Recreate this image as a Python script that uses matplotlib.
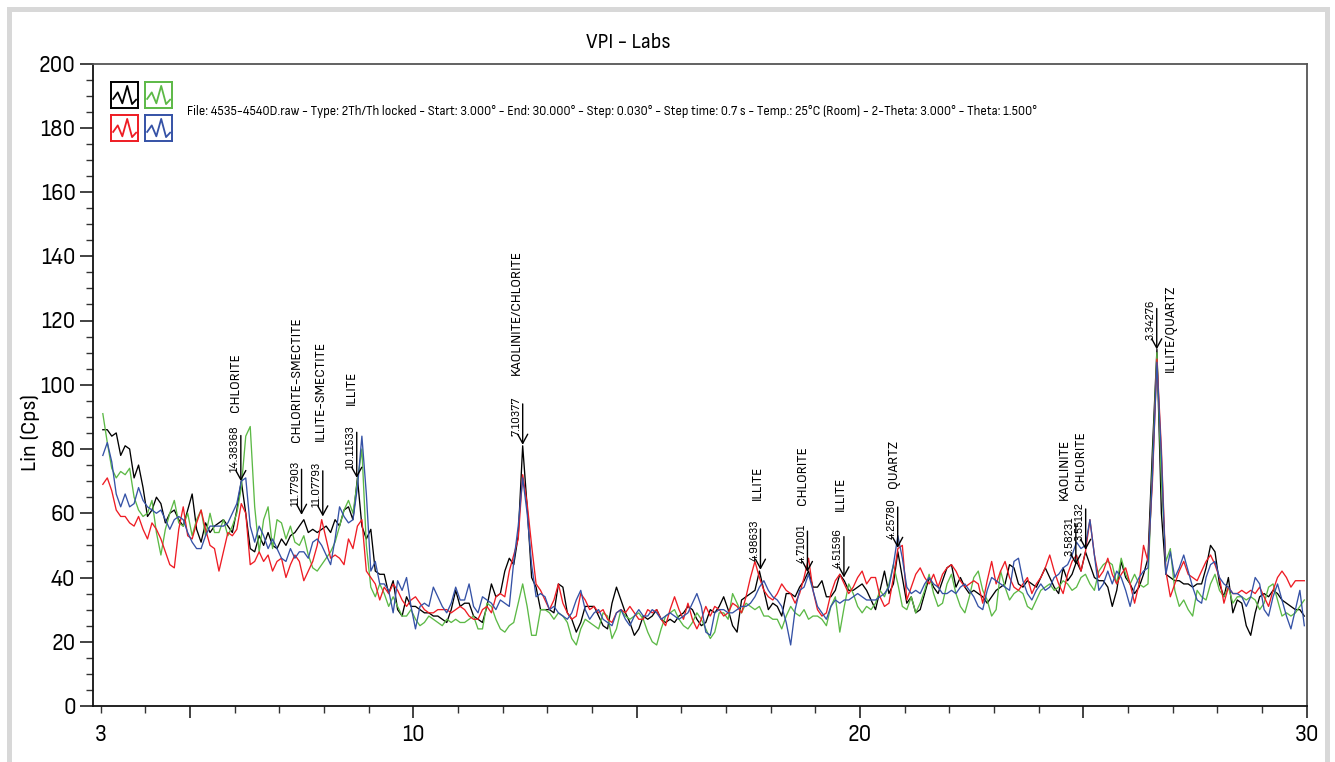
import numpy as np
import matplotlib
matplotlib.use("Agg")
import matplotlib.pyplot as plt
from matplotlib import font_manager
from matplotlib.patches import Rectangle

# ---- data (Lin counts, 0.1 deg bins from 3.05 to 29.95) ----
black = [
    86, 86, 84, 85, 78, 81, 80, 71, 75, 68,
    59, 61, 65, 63, 57, 60, 61, 58, 56, 61,
    66, 55, 51, 57, 54, 56, 57, 58, 56, 54,
    61, 70, 60, 49, 48, 53, 50, 54, 50, 49,
    52, 50, 53, 54, 56, 58, 54, 55, 54, 55,
    56, 54, 58, 56, 61, 62, 58, 71, 56, 52,
    55, 42, 41, 41, 35, 39, 30, 28, 34, 31,
    31, 30, 29, 29, 28, 28, 27, 26, 30, 36,
    31, 32, 32, 28, 27, 26, 31, 38, 34, 35,
    42, 46, 44, 53, 81, 62, 40, 37, 30, 30,
    30, 29, 38, 37, 29, 27, 23, 26, 31, 31,
    31, 28, 25, 24, 32, 37, 33, 29, 26, 22,
    24, 28, 27, 28, 30, 27, 26, 27, 26, 28,
    29, 31, 30, 27, 25, 26, 30, 29, 31, 34,
    30, 25, 23, 33, 34, 35, 36, 42, 36, 30,
    32, 31, 28, 35, 35, 34, 37, 39, 42, 37,
    37, 39, 34, 34, 36, 41, 39, 36, 36, 37,
    38, 36, 33, 30, 36, 42, 35, 38, 48, 40,
    32, 34, 29, 30, 35, 40, 37, 35, 39, 43,
    44, 37, 40, 37, 35, 36, 35, 34, 32, 34,
    36, 37, 38, 44, 43, 38, 37, 39, 38, 37,
    40, 43, 40, 37, 35, 43, 39, 41, 45, 42,
    48, 44, 40, 39, 39, 37, 31, 36, 45, 40,
    38, 35, 37, 41, 46, 80, 111, 60, 41, 40,
    39, 39, 38, 38, 37, 38, 38, 43, 50, 48,
    38, 34, 40, 29, 33, 32, 25, 22, 29, 34,
    35, 34, 36, 35, 33, 32, 31, 30, 30, 28,
]
green = [
    91, 82, 74, 71, 73, 72, 74, 65, 61, 59,
    60, 64, 54, 47, 55, 60, 64, 57, 56, 60,
    53, 58, 61, 53, 60, 54, 54, 58, 53, 56,
    60, 68, 84, 87, 62, 48, 58, 62, 49, 58,
    57, 52, 56, 51, 50, 53, 47, 43, 42, 44,
    46, 48, 51, 56, 61, 64, 60, 70, 80, 50,
    37, 34, 38, 35, 31, 34, 31, 28, 28, 30,
    27, 25, 26, 28, 27, 26, 25, 27, 26, 27,
    26, 26, 27, 28, 24, 24, 32, 31, 27, 24,
    23, 25, 26, 32, 38, 31, 22, 22, 30, 30,
    29, 27, 29, 28, 26, 21, 19, 24, 27, 26,
    25, 24, 29, 28, 21, 24, 30, 28, 27, 28,
    29, 27, 23, 20, 19, 24, 28, 29, 30, 27,
    25, 24, 26, 29, 27, 24, 21, 23, 29, 29,
    27, 35, 32, 29, 32, 31, 30, 31, 28, 28,
    27, 27, 24, 28, 31, 29, 28, 30, 27, 28,
    28, 27, 25, 31, 34, 23, 31, 38, 35, 31,
    29, 31, 30, 32, 36, 34, 38, 44, 38, 31,
    30, 34, 29, 32, 36, 41, 35, 31, 32, 38,
    41, 35, 31, 29, 34, 40, 42, 36, 33, 28,
    30, 42, 37, 33, 35, 36, 35, 31, 30, 33,
    36, 37, 38, 36, 37, 39, 38, 36, 37, 40,
    41, 38, 36, 42, 44, 45, 44, 38, 46, 41,
    38, 41, 38, 37, 38, 75, 110, 70, 45, 49,
    36, 31, 33, 30, 28, 36, 34, 33, 38, 41,
    36, 34, 37, 32, 34, 34, 33, 34, 33, 30,
    32, 37, 38, 33, 28, 29, 28, 29, 31, 33,
]
red = [
    69, 71, 67, 61, 59, 59, 57, 56, 59, 55,
    52, 57, 55, 52, 48, 44, 43, 55, 62, 53,
    52, 57, 61, 55, 50, 49, 42, 48, 54, 53,
    55, 63, 60, 44, 45, 48, 45, 47, 42, 45,
    46, 40, 44, 47, 45, 39, 42, 45, 50, 58,
    52, 46, 47, 46, 44, 52, 49, 56, 58, 42,
    40, 38, 33, 37, 35, 38, 36, 33, 31, 33,
    34, 32, 30, 29, 29, 30, 30, 30, 29, 30,
    31, 30, 28, 27, 27, 30, 31, 29, 34, 35,
    34, 42, 47, 52, 72, 63, 50, 38, 36, 33,
    30, 33, 38, 32, 29, 27, 28, 35, 33, 30,
    31, 29, 30, 27, 26, 29, 30, 29, 31, 29,
    27, 27, 30, 29, 30, 27, 25, 30, 34, 30,
    27, 32, 27, 24, 27, 31, 28, 31, 30, 28,
    29, 32, 31, 29, 34, 40, 45, 40, 36, 34,
    33, 35, 38, 36, 35, 32, 35, 40, 46, 36,
    30, 28, 29, 35, 39, 41, 38, 35, 37, 40,
    42, 38, 40, 40, 34, 31, 32, 40, 49, 50,
    33, 37, 41, 43, 40, 38, 41, 37, 41, 43,
    44, 42, 39, 37, 38, 39, 38, 32, 39, 45,
    38, 42, 45, 40, 37, 36, 38, 40, 35, 38,
    40, 43, 47, 42, 38, 35, 41, 45, 47, 42,
    48, 58, 47, 40, 42, 46, 41, 38, 41, 43,
    38, 32, 38, 50, 45, 70, 108, 80, 42, 34,
    38, 42, 45, 41, 40, 39, 42, 45, 47, 44,
    40, 32, 37, 35, 35, 36, 35, 36, 35, 37,
    34, 31, 36, 40, 42, 40, 37, 39, 39, 39,
]
blue = [
    78, 82, 76, 66, 62, 66, 62, 63, 68, 64,
    62, 61, 60, 61, 58, 55, 58, 59, 58, 54,
    51, 49, 49, 53, 56, 56, 56, 56, 57, 60,
    63, 70, 71, 56, 51, 56, 53, 49, 52, 49,
    46, 45, 49, 46, 48, 48, 46, 51, 52, 50,
    47, 44, 52, 62, 59, 57, 58, 68, 84, 66,
    42, 45, 38, 38, 36, 29, 39, 36, 40, 31,
    24, 31, 32, 31, 37, 34, 31, 29, 32, 37,
    33, 33, 38, 31, 29, 34, 33, 32, 30, 33,
    32, 31, 45, 56, 71, 60, 44, 34, 35, 34,
    30, 31, 29, 28, 27, 29, 33, 36, 30, 27,
    29, 30, 27, 26, 25, 29, 30, 27, 25, 28,
    30, 28, 28, 30, 29, 27, 28, 29, 28, 27,
    28, 29, 32, 35, 31, 23, 22, 29, 30, 30,
    29, 29, 30, 31, 31, 32, 34, 37, 39, 36,
    34, 33, 31, 26, 19, 30, 36, 37, 41, 36,
    31, 29, 27, 31, 33, 32, 33, 33, 34, 35,
    34, 33, 33, 33, 34, 35, 37, 44, 53, 46,
    37, 35, 36, 35, 38, 40, 38, 37, 35, 35,
    36, 35, 37, 38, 36, 34, 31, 30, 36, 40,
    39, 38, 37, 36, 45, 46, 39, 35, 33, 36,
    38, 36, 37, 40, 41, 43, 44, 47, 51, 49,
    50, 58, 47, 36, 38, 42, 38, 42, 40, 36,
    31, 37, 40, 42, 43, 72, 107, 78, 41, 48,
    40, 43, 47, 42, 37, 33, 32, 40, 44, 45,
    40, 38, 37, 35, 35, 34, 31, 34, 40, 38,
    30, 28, 34, 38, 33, 28, 24, 30, 36, 25,
]

# peak picks: d-spacing (Angstrom), phase, height of the arrow tip
d_values = ['14.38368', '11.77903', '11.07793', '10.11533', '7.10377', '4.98633',
            '4.71001', '4.51596', '4.25780', '3.58231', '3.55132', '3.34276']
phases = ['CHLORITE', 'CHLORITE-SMECTITE', 'ILLITE-SMECTITE', 'ILLITE',
          'KAOLINITE/CHLORITE', 'ILLITE', 'CHLORITE', 'ILLITE', 'QUARTZ',
          'KAOLINITE', 'CHLORITE', 'ILLITE/QUARTZ']
tip_heights = [70, 59.5, 59, 71, 81.3, 42.4, 41.7, 40, 49.2, 44, 48.6, 111]

info = ("File: 4535-4540D.raw - Type: 2Th/Th locked - Start: 3.000\u00b0 - End: 30.000\u00b0 - "
        "Step: 0.030\u00b0 - Step time: 0.7 s - Temp.: 25\u00b0C (Room) - 2-Theta: 3.000\u00b0 - "
        "Theta: 1.500\u00b0")

# ---- font: look for a condensed / narrow sans face ----
condensed = None
for f in font_manager.fontManager.ttflist:
    st = str(f.stretch)
    if st in ('condensed', 'semi-condensed', 'extra-condensed') or 'Narrow' in f.name \
            or 'Condensed' in f.name:
        if f.style == 'normal' and f.weight in (400, 'normal', 'regular', 'book'):
            if condensed is None or 'Sans' in f.name:
                condensed = (f.name, st if st in ('condensed', 'semi-condensed',
                                                   'extra-condensed') else 'normal')
if condensed:
    plt.rcParams['font.family'] = [condensed[0], 'DejaVu Sans']
    plt.rcParams['font.stretch'] = condensed[1]
    k = 1.0
else:
    plt.rcParams['font.family'] = ['DejaVu Sans']
    k = 0.8  # wide fallback face: shrink texts

c_black, c_green, c_red, c_blue = '#000000', '#5cb946', '#ee1c24', '#3552a6'

W, H = 1335, 762
fig = plt.figure(figsize=(W / 100, H / 100), dpi=100)
ax = fig.add_axes([93 / W, 1 - 706 / H, (1307 - 93) / W, (706 - 63.5) / H])

two_theta = np.linspace(3.05, 29.95, len(black))
for ys, col in [(black, c_black), (green, c_green), (red, c_red), (blue, c_blue)]:
    ax.plot(two_theta, ys, color=col, lw=0.95, solid_joinstyle='round')

ax.set_xlim(2.83, 30.01)
ax.set_ylim(0, 200)

ax.set_xticks([5, 10, 15, 20, 25, 30])
ax.set_xticklabels(['', '10', '', '20', '', '30'])
minor_x = np.arange(3, 31)
ax.set_xticks(minor_x, minor=True)
ax.set_xticklabels(['3' if v == 3 else '' for v in minor_x], minor=True)
ax.set_yticks(np.arange(0, 201, 20))
ax.set_yticks(np.arange(0, 201, 5), minor=True)
ax.tick_params(axis='both', which='major', labelsize=16.5 * k, width=1.2, color='#222')
ax.tick_params(axis='y', which='major', length=9.5, pad=3)
ax.tick_params(axis='y', which='minor', length=5, width=1.0, color='#333')
ax.tick_params(axis='x', which='major', length=8.5, pad=5)
ax.tick_params(axis='x', which='minor', length=5, width=1.0, color='#333',
               labelsize=16.5 * k, pad=8.5)
for side in ['left', 'bottom']:
    ax.spines[side].set_linewidth(1.3)
    ax.spines[side].set_color('#111')
for side in ['top', 'right']:
    ax.spines[side].set_linewidth(1.3)
    ax.spines[side].set_color('#555')

fig.text(628 / W, 1 - 43 / H, 'VPI - Labs', ha='center', va='center', fontsize=15 * k)
fig.text(30 / W, 1 - 432 / H, 'Lin (Cps)', ha='center', va='center', rotation=90,
         fontsize=16 * k)
ax.text(4.93, 185.2, info, ha='left', va='center',
        fontsize=9.3 if condensed else 8.2)

# legend swatches
zig_x = [0.08, 0.25, 0.42, 0.6, 0.78, 0.93]
zig_y = [0.35, 0.6, 0.18, 0.85, 0.15, 0.32]
for (px, py), col in zip([(111, 82), (145, 82), (111, 115), (145, 115)],
                         [c_black, c_green, c_red, c_blue]):
    sw = fig.add_axes([px / W, 1 - (py + 26) / H, 27 / W, 26 / H])
    sw.plot(zig_x, zig_y, color=col, lw=1.3)
    sw.set_xlim(0, 1)
    sw.set_ylim(0, 1)
    sw.set_xticks([])
    sw.set_yticks([])
    for s in sw.spines.values():
        s.set_color(col)
        s.set_linewidth(1.4)

# peak annotations
wavelength = 1.5406
pk_pos = [2 * np.degrees(np.arcsin(wavelength / (2 * float(d)))) for d in d_values]
name_dx = [-5, -5, -2, -5, -6, -3, -5, -4, -4, -11, -5, 14]
name_dy = [69, 73, 75, 73, 70, 70, 67, 66, 60, 65, 60, -23]
pt = 0.72
for x, d, ph, tip, ndx, ndy in zip(pk_pos, d_values, phases, tip_heights, name_dx, name_dy):
    L = 8 + 4.7 * len(d)
    ax.annotate('', xy=(x, tip), xytext=(0, L * pt), textcoords='offset points',
                arrowprops=dict(arrowstyle='->,head_length=0.55,head_width=0.3',
                                color='k', lw=1.0, shrinkA=0, shrinkB=0,
                                mutation_scale=12))
    ax.annotate(d, xy=(x, tip), xytext=(-1 * pt, 9 * pt), textcoords='offset points',
                rotation=90, ha='right', va='bottom', fontsize=8.8 * (1 if condensed else 0.8))
    ax.annotate(ph, xy=(x, tip), xytext=(ndx * pt, ndy * pt), textcoords='offset points',
                rotation=90, ha='center', va='bottom', fontsize=10.3 * (1 if condensed else 0.85))

# light grey outer frame
fig.patches.append(Rectangle((9 / W, -0.05), (1327 - 9) / W, 1 - 9 / H + 0.05,
                             transform=fig.transFigure, fill=False,
                             edgecolor='#d8d8d8', lw=3.6))

fig.savefig('out.png', dpi=100)
